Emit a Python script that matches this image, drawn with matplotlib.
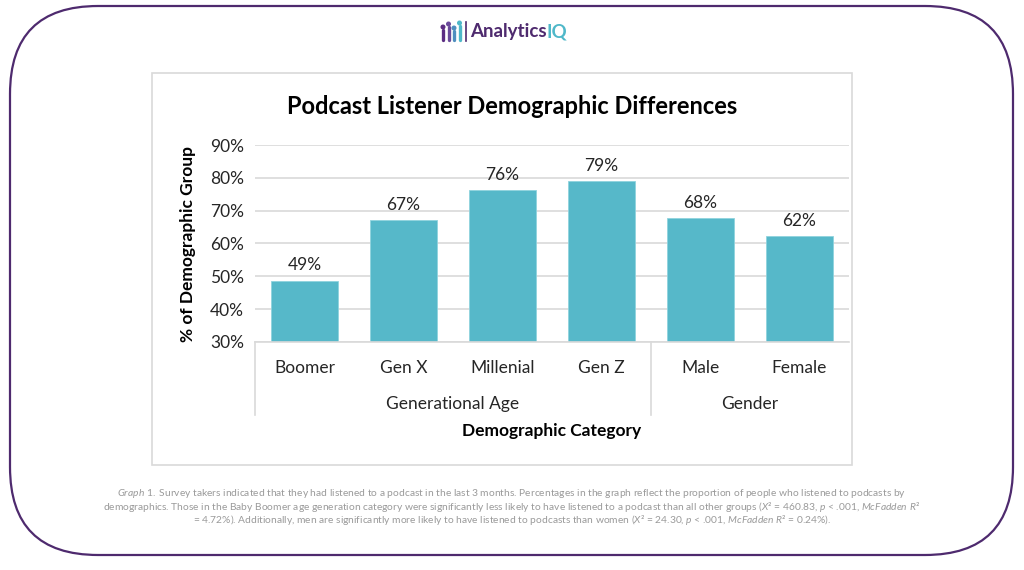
import matplotlib
matplotlib.use("Agg")
import matplotlib.pyplot as plt
from matplotlib.patches import FancyBboxPatch, Rectangle, Circle

plt.rcParams['font.family'] = ['Lato', 'DejaVu Sans']
plt.rcParams['mathtext.fontset'] = 'custom'
plt.rcParams['mathtext.rm'] = 'Lato'
plt.rcParams['mathtext.it'] = 'Lato:italic:normal'

# data
categories = ['Boomer', 'Gen X', 'Millenial', 'Gen Z', 'Male', 'Female']
values = [48.7, 67.1, 76.3, 79.0, 67.7, 62.3]
groups = ['Generational Age', 'Gender']
group_sizes = [4, 2]
yticks = [30, 40, 50, 60, 70, 80, 90]

BAR = '#56b8c9'
GRID = '#d9d9d9'
PURPLE = '#4e2a6e'
TEAL = '#4fb8c9'

fig = plt.figure(figsize=(10.24, 5.70), dpi=100)

# background layer in pixel units
bg = fig.add_axes([0, 0, 1, 1], zorder=0)
bg.set_xlim(0, 1024)
bg.set_ylim(570, 0)
bg.axis('off')
bg.add_patch(FancyBboxPatch((10, 6), 1003, 549, boxstyle='round,pad=0,rounding_size=88',
                            fc='white', ec=PURPLE, lw=1.6))
bg.add_patch(Rectangle((152, 73), 700, 392, fc='white', ec=GRID, lw=1.2))

# logo
icon_cols = ['#5b2d82', '#6a4a9a', '#4f8fbf', '#4fb8c9']
icon_h = [10, 13, 9, 14]
for i, (c, h) in enumerate(zip(icon_cols, icon_h)):
    x = 443 + i * 5.5
    bg.add_patch(Circle((x, 40 - h - 3), 1.8, color=c))
    bg.plot([x, x], [40 - h, 40], color=c, lw=2.4, solid_capstyle='round')
bg.plot([466, 466], [22, 41], color=PURPLE, lw=1.2)
t = bg.text(470, 32, 'Analytics', color=PURPLE, fontsize=13.5, fontweight='bold',
            va='center', ha='left')
bg.annotate('IQ', xy=(1, 0.5), xycoords=t, color=TEAL, fontsize=13.5,
            fontweight='bold', va='center', ha='left')

# caption
cap = [r'$\it{Graph\ 1.}$ Survey takers indicated that they had listened to a podcast in the last 3 months. '
       'Percentages in the graph reflect the proportion of people who listened to podcasts by',
       r'demographics. Those in the Baby Boomer age generation category were significantly less likely to have '
       r'listened to a podcast than all other groups ($\it{X}$² = 460.83, $\it{p}$ < .001, $\it{McFadden\ R}$²',
       r'= 4.72%). Additionally, men are significantly more likely to have listened to podcasts than women '
       r'($\it{X}$² = 24.30, $\it{p}$ < .001, $\it{McFadden\ R}$² = 0.24%).']
for i, line in enumerate(cap):
    bg.text(512, 493 + i * 13.5, line, ha='center', va='center', fontsize=7.4,
            color='#9a9a9a', fontweight='normal')

# chart
ax = fig.add_axes([255 / 1024, 1 - 342 / 570, 594 / 1024, 197 / 570], zorder=1)
x = list(range(len(categories)))
ax.bar(x, values, width=0.67, color=BAR, edgecolor='#8fd3de', linewidth=0.6,
       bottom=0, zorder=2)
for xi, v in zip(x, values):
    ax.text(xi, v + 2.2, f'{v:.0f}%', ha='center', va='bottom', fontsize=12.5,
            color='#262626')
ax.set_xlim(-0.5, len(categories) - 0.5)
ax.set_ylim(30, 90)
ax.set_yticks(yticks)
ax.set_yticklabels([f'{v}%' for v in yticks], fontsize=12.5, color='#262626')
ax.yaxis.grid(True, color=GRID, lw=1.2, zorder=0)
ax.set_axisbelow(True)
ax.tick_params(axis='y', length=0, pad=8)
ax.set_xticks(x)
ax.set_xticklabels(categories, fontsize=12.5, color='#262626')
ax.tick_params(axis='x', length=0, pad=13)
for s in ['top', 'right', 'left']:
    ax.spines[s].set_visible(False)
ax.spines['bottom'].set_color(GRID)
ax.spines['bottom'].set_linewidth(1.2)

# group separators and labels
trans = ax.get_xaxis_transform()
start = -0.5
edges = [start]
for g, n in zip(groups, group_sizes):
    mid = start + n / 2
    ax.text(mid, -0.315, g, transform=trans, ha='center', va='center',
            fontsize=12.5, color='#262626')
    start += n
    edges.append(start)
for e in edges[:-1]:
    ax.plot([e, e], [0, -0.37], transform=trans, color=GRID, lw=1.2, clip_on=False)

ax.text(0.5, -0.452, 'Demographic Category', transform=ax.transAxes, ha='center',
        va='center', fontsize=12.5, fontweight='bold', color='black')
ax.set_ylabel('% of Demographic Group', fontsize=12.5, fontweight='bold',
              color='black', labelpad=10)
fig.text(512 / 1024, 1 - 106 / 570, 'Podcast Listener Demographic Differences',
         ha='center', va='center', fontsize=17, fontweight='bold', color='black')

fig.savefig('out.png', dpi=100)
